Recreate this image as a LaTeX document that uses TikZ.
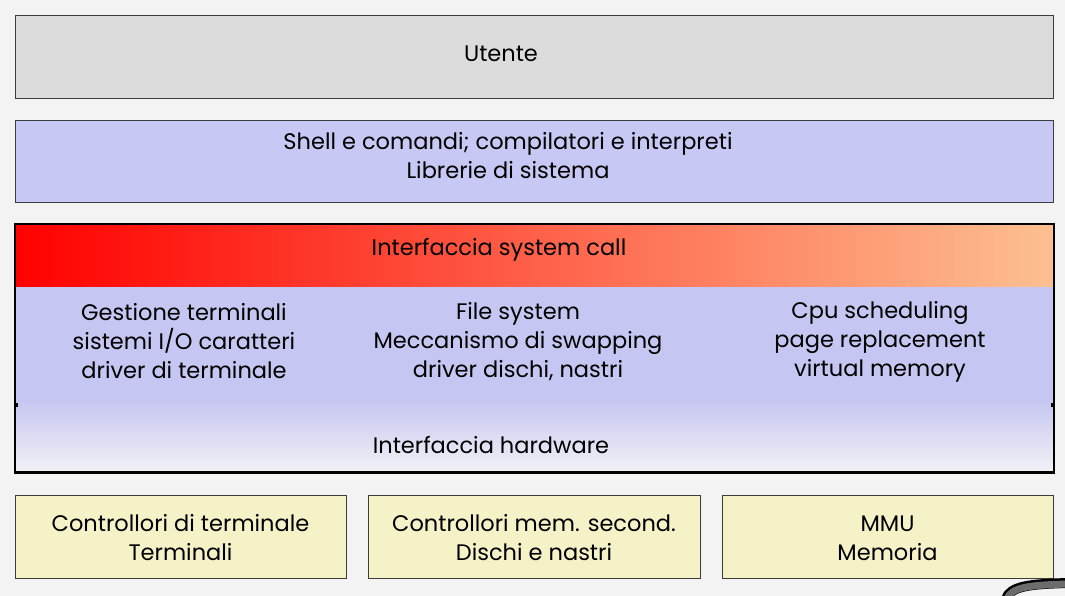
\documentclass[tikz,border=0pt]{standalone}
\usepackage{fontspec}
\setmainfont{Poppins}
\definecolor{sfondo}{RGB}{243,243,243}
\definecolor{grigio}{RGB}{220,220,220}
\definecolor{lavanda}{RGB}{200,200,245}
\definecolor{lavkern}{RGB}{198,198,242}
\definecolor{biancok}{RGB}{242,242,245}
\definecolor{pesca}{RGB}{253,192,145}
\definecolor{paglia}{RGB}{245,242,200}
\definecolor{bordo}{RGB}{60,60,60}

\begin{document}
\begin{tikzpicture}[x=1pt, y=-1pt,
  layer/.style={draw=bordo, line width=1pt, minimum height=83pt, inner sep=0pt},
  testo/.style={font=\fontsize{22.5}{29}\selectfont, align=center, inner sep=0pt}]
  % sfondo
  \fill[sfondo] (0,0) rectangle (1065,596);
  \useasboundingbox (0,0) rectangle (1065,596);
  % Utente
  \node[layer, fill=grigio, minimum width=1038pt] (utente) at (534,57.5) {};
  \node[testo] (utenteTxt) at (501,54) {Utente};
  % Shell e librerie
  \node[layer, fill=lavanda, minimum width=1038pt, minimum height=82pt] (shell) at (534,162) {};
  \node[testo] (shellTxt) at (508,156) {Shell e comandi; compilatori e interpreti\\Librerie di sistema};
  % Kernel
  \shade[left color=red, right color=pesca] (15,224) rectangle (1054,287);
  \fill[lavkern] (15,287) rectangle (1054,400);
  \shade[top color=lavkern, bottom color=biancok] (15,400) rectangle (1054,473);
  \draw[black, line width=1.5pt] (15,224) rectangle (1054,473);
  \draw[black, line width=3pt] (15,472) -- (1054,472);
  \fill[black] (15,403) rectangle (18,407);
  \fill[black] (1051,403) rectangle (1054,407);
  \node[testo] (syscall) at (499,249.5) {Interfaccia system call};
  \node[testo] (terminali) at (184,341.5) {Gestione terminali\\sistemi I/O caratteri\\driver di terminale};
  \node[testo] (filesys) at (518,341.5) {File system\\Meccanismo di swapping\\driver dischi, nastri};
  \node[testo] (cpu) at (880,341.5) {Cpu scheduling\\page replacement\\virtual memory};
  \node[testo] (hardware) at (491,445) {Interfaccia hardware};
  % Controllori
  \node[layer, fill=paglia, minimum width=331pt] (ctrlterm) at (180.5,536.5) {};
  \node[testo] at ([yshift=-1.5pt]ctrlterm) {Controllori di terminale\\Terminali};
  \node[layer, fill=paglia, minimum width=332pt] (ctrlmem) at (534,536.5) {};
  \node[testo] at ([yshift=-1.5pt]ctrlmem) {Controllori mem. second.\\Dischi e nastri};
  \node[layer, fill=paglia, minimum width=331pt] (mmu) at (887.5,536.5) {};
  \node[testo] at ([yshift=-1.5pt]mmu) {MMU\\Memoria};
  % angolo
  \draw[black, line width=10pt] (1006,599) .. controls (1010,586) and (1030,584) .. (1068,583);
  \draw[gray!85!black, line width=7pt] (1007,599) .. controls (1011,587) and (1030,585) .. (1068,584);
\end{tikzpicture}
\end{document}
